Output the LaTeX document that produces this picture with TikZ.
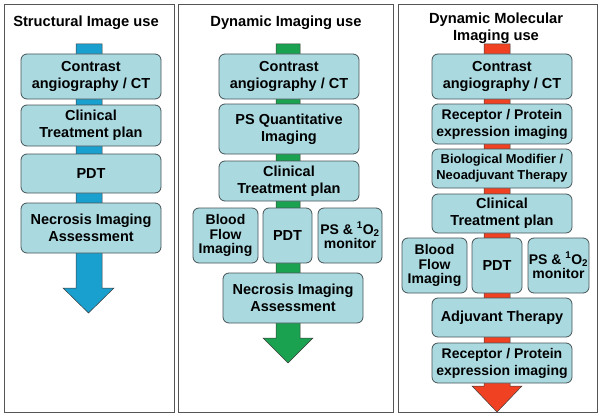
\documentclass[tikz,border=0pt]{standalone}
\usepackage{fontspec}
\setmainfont{Liberation Sans}
\definecolor{boxfill}{RGB}{170,218,224}
\definecolor{boxline}{RGB}{70,82,86}
\definecolor{bluearr}{RGB}{26,160,206}
\definecolor{greenarr}{RGB}{26,162,80}
\definecolor{redarr}{RGB}{240,66,34}
\definecolor{frameline}{RGB}{85,85,85}
\definecolor{arrline}{RGB}{60,60,60}
\newcommand\mybox[7][]{%
  \node[stepbox,#1,minimum width={((#5)-(#3))*1pt},minimum height={((#6)-(#4))*1pt}]
    (#2) at ({((#3)+(#5))/2},{((#4)+(#6))/2}) {#7};}
\newcommand\myarrow[8]{%
  \draw[draw=arrline,line width=0.5pt,fill=#1] (#2,#4) -- (#3,#4) -- (#3,#5) -- (#7,#5)
    -- ({((#6)+(#7))/2},#8) -- (#6,#5) -- (#2,#5) -- cycle;}
\begin{document}
\begin{tikzpicture}[x=1pt,y=-1pt,
  stepbox/.style={draw=boxline,fill=boxfill,rounded corners=6pt,line width=0.8pt,
    align=center,inner sep=0pt,font=\bfseries\fontsize{14.5}{17}\selectfont},
  smallrow/.style={font=\bfseries\fontsize{14}{14.5}\selectfont},
  titletext/.style={align=center,inner sep=0pt,font=\bfseries\fontsize{14.7}{17}\selectfont},
  panel/.style={draw=frameline,line width=1pt}]
\useasboundingbox (0,0) rectangle (601,417);
% frames
\draw[panel] (4,5) rectangle (174,412);
\draw[panel] (178,5) rectangle (393,412);
\draw[panel] (398,5) rectangle (597,412);
% titles
\node[titletext,anchor=base] (t1) at (86,27) {Structural Image use};
\node[titletext,anchor=base] (t2) at (286,27) {Dynamic Imaging use};
\node[titletext] (t3) at (496,28) {Dynamic Molecular\\Imaging use};
% arrows
\myarrow{bluearr}{76}{102}{44}{288}{63}{114}{313}
\myarrow{greenarr}{276}{300}{44}{338}{263}{313}{363}
\myarrow{redarr}{484}{510}{44}{386}{472}{522}{412}
% panel 1
\mybox{a1}{21}{54}{161}{99}{Contrast\\angiography / CT}
\mybox{a2}{21}{105}{161}{146}{Clinical\\Treatment plan}
\mybox{a3}{21}{154}{161}{193}{PDT}
\mybox{a4}{21}{203}{161}{253}{Necrosis Imaging\\Assessment}
% panel 2
\mybox{b1}{219}{54}{359}{99}{Contrast\\angiography / CT}
\mybox{b2}{219}{104}{359}{154}{PS Quantitative\\Imaging}
\mybox{b3}{219}{161}{359}{201}{Clinical\\Treatment plan}
\mybox[smallrow]{b4}{193}{208}{258}{263}{Blood\\Flow\\Imaging}
\mybox{b5}{263}{208}{312}{263}{PDT}
\mybox[smallrow]{b6}{318}{208}{382}{263}{PS \& \textsuperscript{1}O\textsubscript{2}\\monitor}
\mybox{b7}{223}{273}{363}{323}{Necrosis Imaging\\Assessment}
% panel 3
\mybox{c1}{432}{54}{572}{99}{Contrast\\angiography / CT}
\mybox[font=\bfseries\fontsize{14}{17}\selectfont]{c2}{432}{104}{572}{144}{Receptor / Protein\\expression imaging}
\mybox[font=\bfseries\fontsize{12.9}{16}\selectfont]{c3}{432}{149}{572}{188}{Biological Modifier /\\Neoadjuvant Therapy}
\mybox{c4}{432}{194}{572}{233}{Clinical\\Treatment plan}
\mybox[smallrow]{c5}{402}{238}{467}{293}{Blood\\Flow\\Imaging}
\mybox{c6}{472}{238}{522}{293}{PDT}
\mybox[smallrow]{c7}{528}{238}{589}{293}{PS \& \textsuperscript{1}O\textsubscript{2}\\monitor}
\mybox{c8}{432}{298}{572}{337}{Adjuvant Therapy}
\mybox[font=\bfseries\fontsize{14}{17}\selectfont]{c9}{432}{343}{572}{383}{Receptor / Protein\\expression imaging}
\end{tikzpicture}
\end{document}
